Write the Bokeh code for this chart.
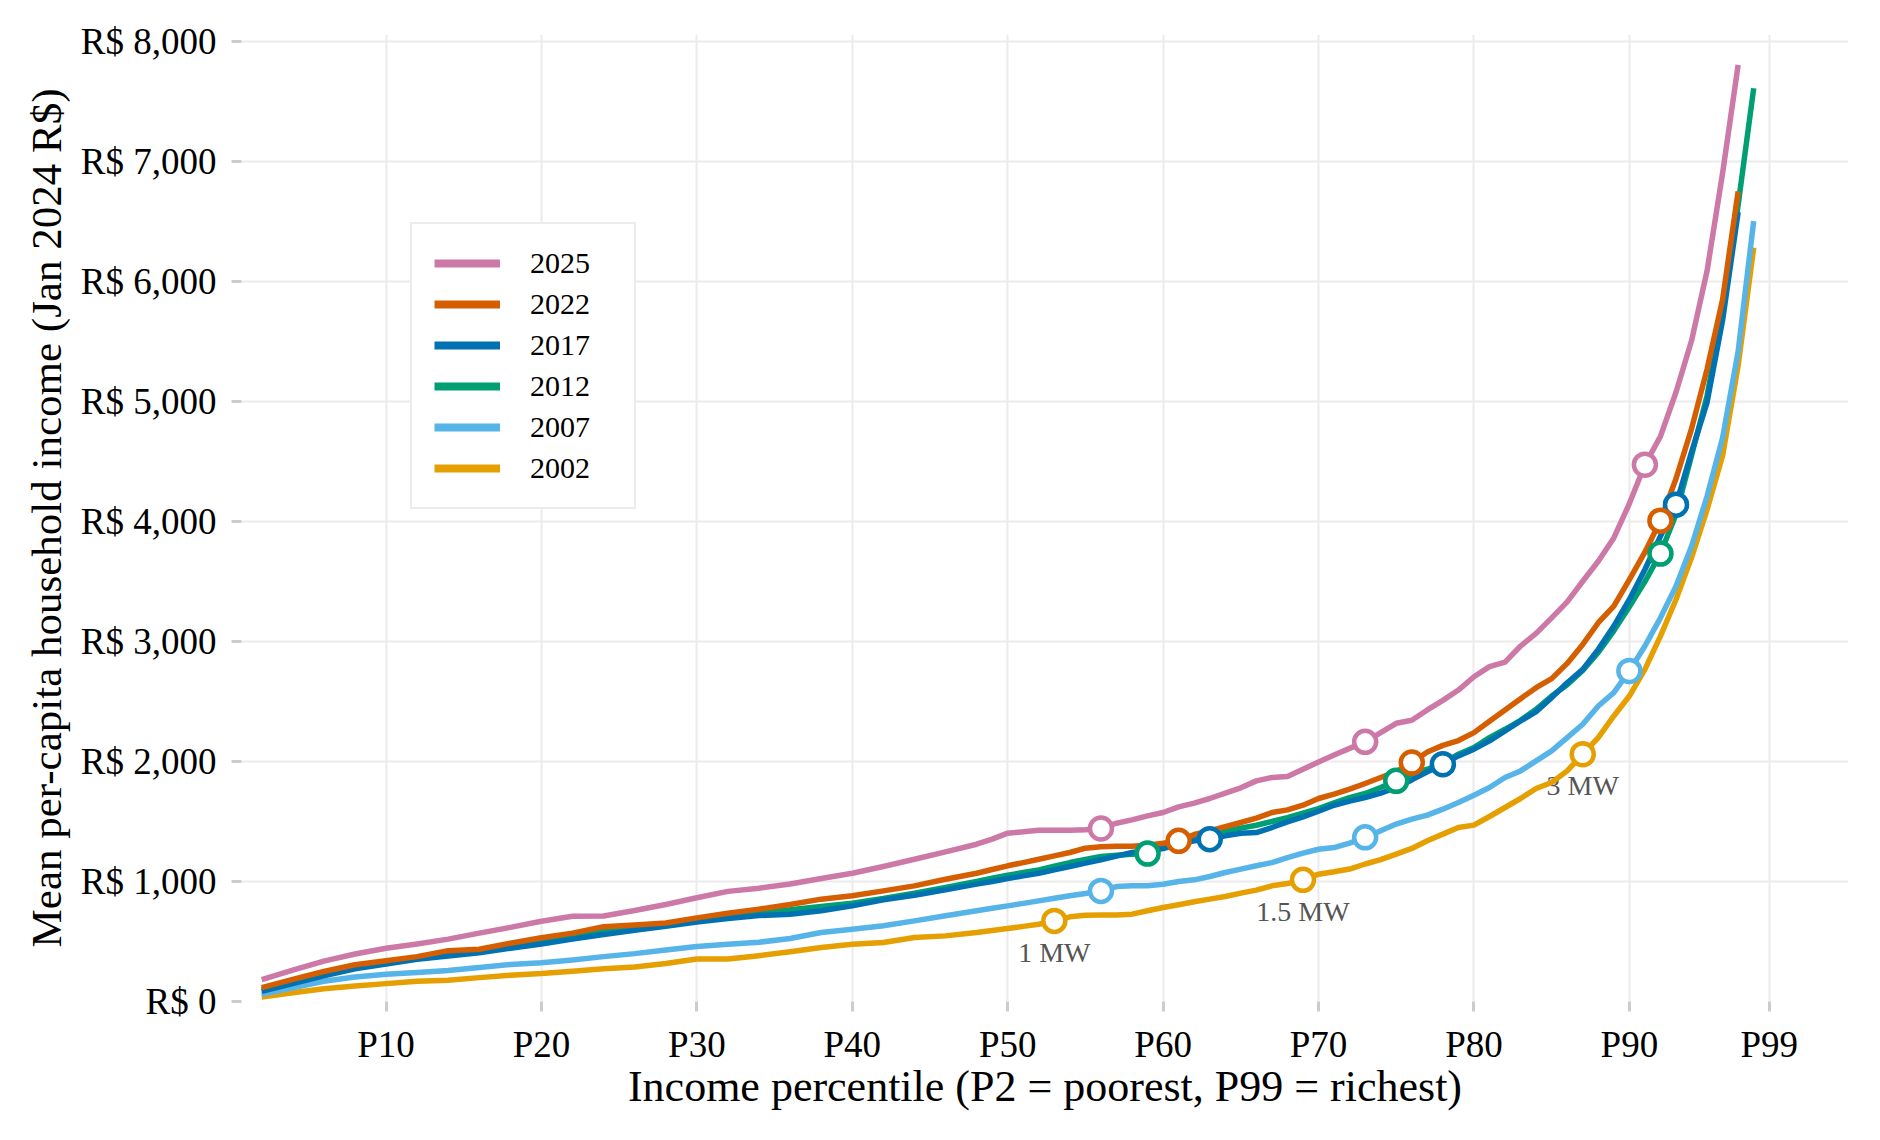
import numpy as np
from bokeh.plotting import figure
from bokeh.models import ColumnDataSource, Range1d, FixedTicker, Legend, LegendItem
from bokeh.core.properties import value
from bokeh.embed import file_html
from bokeh.resources import INLINE

FONT = "Liberation Serif"

# --- data ---
pct = list(range(2, 48, 2)) + list(range(48, 99))

inc_2025 = [183, 261, 337, 396, 444, 480, 520, 570, 618, 669, 711, 713, 758, 809, 865, 918, 944, 980, 1025, 1069, 1125, 1186, 1247,
            1311, 1353, 1403, 1414, 1428, 1428, 1428, 1431, 1442, 1486, 1514, 1547, 1575, 1622, 1653, 1692, 1736, 1781, 1839, 1867,
            1875, 1936, 1997, 2055, 2110, 2164, 2241, 2319, 2344, 2430, 2510, 2596, 2707, 2791, 2829, 2963, 3068, 3198, 3331, 3503,
            3670, 3864, 4150, 4474, 4710, 5078, 5507, 6089, 6906, 7806]
inc_2022 = [115, 185, 250, 306, 340, 374, 424, 435, 486, 531, 570, 624, 638, 654, 697, 736, 770, 808, 853, 881, 922, 964, 1019,
            1069, 1100, 1131, 1158, 1186, 1214, 1242, 1278, 1289, 1294, 1294, 1303, 1319, 1339, 1392, 1422, 1458, 1492, 1528, 1575,
            1597, 1636, 1692, 1728, 1770, 1817, 1867, 1917, 1992, 2080, 2135, 2175, 2241, 2336, 2430, 2524, 2616, 2691, 2818, 2976,
            3157, 3295, 3517, 3745, 4008, 4357, 4773, 5271, 5853, 6753]
inc_2017 = [84, 149, 213, 272, 312, 351, 379, 407, 444, 480, 520, 559, 593, 626, 663, 691, 716, 728, 756, 797, 847, 886, 931,
            978, 1000, 1025, 1047, 1069, 1097, 1125, 1153, 1181, 1212, 1242, 1256, 1275, 1311, 1339, 1353, 1381, 1403, 1408, 1450,
            1497, 1539, 1586, 1636, 1670, 1700, 1736, 1784, 1847, 1914, 1978, 2047, 2103, 2172, 2255, 2338, 2416, 2533, 2657, 2768,
            2935, 3129, 3351, 3601, 3878, 4141, 4579, 4994, 5680, 6580]
inc_2012 = [98, 165, 232, 290, 329, 365, 400, 420, 466, 514, 548, 590, 615, 640, 685, 716, 745, 765, 792, 819, 858, 903, 950,
            1000, 1027, 1053, 1075, 1097, 1128, 1158, 1183, 1208, 1219, 1228, 1233, 1283, 1325, 1367, 1395, 1422, 1445, 1469, 1500,
            1533, 1570, 1608, 1655, 1700, 1734, 1784, 1839, 1895, 1936, 1985, 2061, 2117, 2200, 2269, 2344, 2436, 2546, 2640, 2760,
            2910, 3090, 3290, 3500, 3734, 4060, 4550, 5050, 5740, 6640, 7612]
inc_2007 = [59, 115, 169, 205, 228, 242, 258, 284, 309, 323, 346, 374, 399, 430, 458, 478, 494, 525, 575, 603, 631, 672, 714,
            756, 777, 797, 818, 839, 860, 881, 900, 922, 958, 964, 964, 978, 1000, 1014, 1042, 1075, 1103, 1131, 1158,
            1200, 1236, 1269, 1283, 1320, 1368, 1423, 1479, 1520, 1553, 1603, 1659, 1720, 1784, 1867, 1922, 2006, 2089, 2200, 2311,
            2463, 2574, 2755, 2963, 3198, 3462, 3795, 4211, 4700, 5420, 6504]
inc_2002 = [37, 73, 107, 129, 149, 169, 177, 199, 219, 233, 253, 272, 287, 317, 354, 354, 382, 415, 450, 478, 492, 533, 547,
            575, 592, 608, 626, 644, 672, 706, 719, 722, 722, 728, 756, 783, 806, 831, 853, 875, 903, 928, 964,
            983, 1014, 1061, 1081, 1104, 1146, 1182, 1229, 1276, 1340, 1395, 1451, 1470, 1542, 1617, 1692, 1775, 1825, 1922, 2061,
            2200, 2380, 2546, 2768, 3046, 3351, 3700, 4100, 4550, 5300, 6283]

years = ["2025", "2022", "2017", "2012", "2007", "2002"]
series = {"2025": inc_2025, "2022": inc_2022, "2017": inc_2017,
          "2012": inc_2012, "2007": inc_2007, "2002": inc_2002}
colors = {"2025": "#CC79A7", "2022": "#D55E00", "2017": "#0072B2",
          "2012": "#009E73", "2007": "#56B4E9", "2002": "#E69F00"}

# percentiles where 1, 1.5 and 3 minimum wages fall
mw_pct = {"2025": [56, 73, 91], "2022": [61, 76, 92], "2017": [63, 78, 93],
          "2012": [59, 75, 92], "2007": [56, 73, 90], "2002": [53, 69, 87]}
mw_labels = ["1 MW", "1.5 MW", "3 MW"]
label_year = "2002"

x_ticks = [10, 20, 30, 40, 50, 60, 70, 80, 90, 99]
y_ticks = [0, 1000, 2000, 3000, 4000, 5000, 6000, 7000, 8000]

# --- figure ---
p = figure(
    width=1864,
    height=1124,
    x_range=Range1d(0.7, 104.1),
    y_range=Range1d(0, 8060),
    output_backend="svg",
    toolbar_location=None,
    min_border_left=241,
    min_border_right=16,
    min_border_top=34,
    min_border_bottom=123,
)
p.outline_line_color = None
p.background_fill_color = "white"
p.border_fill_color = "white"

for g in (p.xgrid, p.ygrid):
    g.grid_line_color = "#ebebeb"
    g.grid_line_width = 2

p.xaxis.ticker = FixedTicker(ticks=x_ticks)
p.xaxis.major_label_overrides = {t: f"P{t}" for t in x_ticks}
p.yaxis.ticker = FixedTicker(ticks=y_ticks)
p.yaxis.major_label_overrides = {t: f"R$ {t:,}" for t in y_ticks}

p.xaxis.axis_label = "Income percentile (P2 = poorest, P99 = richest)"
p.yaxis.axis_label = "Mean per-capita household income (Jan 2024 R$)"

for ax in (p.xaxis[0], p.yaxis[0]):
    ax.axis_line_color = None
    ax.major_tick_line_color = "#cccccc"
    ax.major_tick_line_width = 3
    ax.major_tick_out = 10
    ax.major_tick_in = 0
    ax.minor_tick_line_color = None
    ax.major_label_text_font = FONT
    ax.major_label_text_font_size = "37px"
    ax.major_label_text_color = "black"
    ax.axis_label_text_font = FONT
    ax.axis_label_text_font_style = "normal"
    ax.axis_label_text_color = "black"
p.xaxis.axis_label_text_font_size = "44px"
p.yaxis.axis_label_text_font_size = "43px"
p.xaxis.major_label_standoff = 12
p.xaxis.axis_label_standoff = -6
p.yaxis.major_label_standoff = 15
p.yaxis.axis_label_standoff = 8

# --- MW annotations (under the lines) ---
lab_vals = dict(zip(pct, series[label_year]))
lab_src = ColumnDataSource(dict(
    x=mw_pct[label_year],
    y=[lab_vals[m] for m in mw_pct[label_year]],
    text=mw_labels,
))
p.text(x="x", y="y", text="text", source=lab_src, text_font=value(FONT),
       text_font_size="28px", text_color="#555555", text_align="center",
       text_baseline="top", y_offset=16)

# --- lines (oldest first, newest on top) ---
for yr in reversed(years):
    vals = series[yr]
    src = ColumnDataSource(dict(x=pct[:len(vals)], y=vals))
    p.line("x", "y", source=src, line_color=colors[yr], line_width=5.5,
           line_join="round")

# --- MW markers ---
for yr in reversed(years):
    lookup = dict(zip(pct, series[yr]))
    msrc = ColumnDataSource(dict(x=mw_pct[yr], y=[lookup[m] for m in mw_pct[yr]]))
    p.scatter("x", "y", source=msrc, marker="circle", size=22,
              fill_color="white", line_color=colors[yr], line_width=4.5)

# --- legend with thicker keys (keys come from empty NaN lines) ---
items = []
for yr in years:
    key_src = ColumnDataSource(dict(x=np.array([np.nan, np.nan]), y=np.array([np.nan, np.nan])))
    r = p.line("x", "y", source=key_src, line_color=colors[yr], line_width=8)
    items.append(LegendItem(label=yr, renderers=[r]))

legend = Legend(
    items=items,
    location=(169, 492),
    label_text_font=FONT,
    label_text_font_size="30px",
    label_text_color="black",
    glyph_width=66,
    glyph_height=30,
    label_height=30,
    label_width=82,
    spacing=7,
    padding=22,
    label_standoff=30,
    border_line_color="#d9d9d9",
    border_line_width=2,
    background_fill_color="white",
    background_fill_alpha=1,
    margin=0,
)
p.add_layout(legend)

open("out.html", "w").write(file_html(p, INLINE))
